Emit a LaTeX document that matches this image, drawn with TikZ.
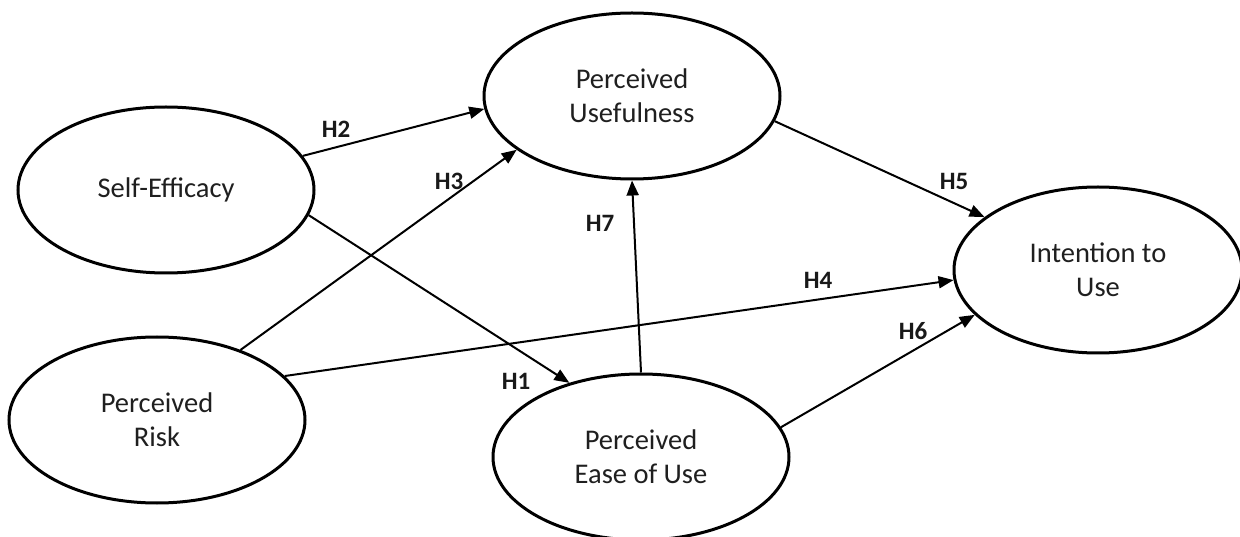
\documentclass[tikz,border=0pt]{standalone}
\usepackage{fontspec}
\setmainfont{Carlito}
\usetikzlibrary{shapes.geometric,arrows.meta}
\begin{document}
\begin{tikzpicture}[x=1pt,y=-1pt,
  construct/.style={ellipse,draw=black,line width=3pt,minimum width=296pt,minimum height=166pt,inner sep=0pt,
    align=center,font=\fontsize{28.5}{34}\selectfont,text=black!88},
  path/.style={line width=2pt,-{Triangle[length=15pt,width=12pt]}},
  hyp/.style={font=\fontsize{25}{28}\bfseries\selectfont,text=black!90}]
\useasboundingbox[fill=white] (0,0) rectangle (1240,537);
\node[construct] (se) at (166,190) {Self-Efficacy};
\node[construct] (pr) at (157,420) {Perceived\\Risk};
\node[construct] (pu) at (632,96) {Perceived\\Usefulness};
\node[construct] (peou) at (641,457) {Perceived\\Ease of Use};
\node[construct,minimum width=288pt] (itu) at (1098,270) {Intention to\\Use};
\draw[path] (se.14) -- (pu.185.5);
\draw[path] (pr.40) -- (pu.205);
\draw[path] (se.-10) -- (peou.134.6);
\draw[path] (pr.19.7) -- (itu.184);
\draw[path] (pu.-10.4) -- (itu.155.9);
\draw[path] (peou.12.4) -- (itu.200.2);
\draw[path] (peou.90.7) -- (pu.270);
\node[hyp] (h2) at (336,129) {H2};
\node[hyp] (h3) at (449,181) {H3};
\node[hyp] (h1) at (516,381) {H1};
\node[hyp] (h7) at (600,223) {H7};
\node[hyp] (h5) at (954,181) {H5};
\node[hyp] (h4) at (818,280) {H4};
\node[hyp] (h6) at (913,331) {H6};
\end{tikzpicture}
\end{document}
